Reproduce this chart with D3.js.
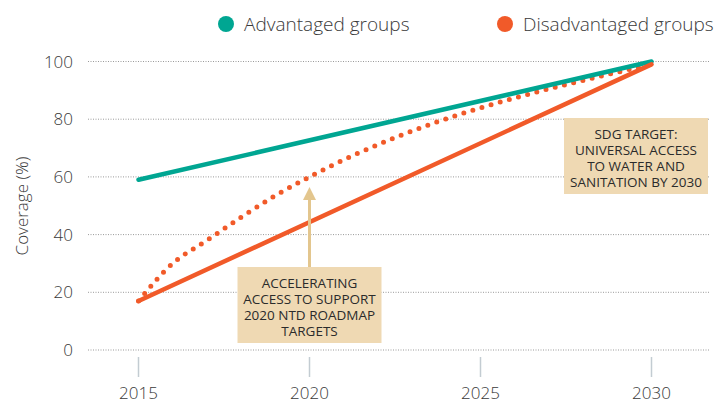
<!DOCTYPE html>
<html>
<head>
<meta charset="utf-8">
<script src="https://cdn.jsdelivr.net/npm/d3@7"></script>
<style>
  body { margin: 0; background: #fff; }
  text { font-family: "Open Sans", sans-serif; }
</style>
</head>
<body>
<div id="chart"></div>
<script>
var w = 715;
var h = 407;

// Data
var years = [2015, 2020, 2025, 2030];
var yTicks = [0, 20, 40, 60, 80, 100];
var advantaged = [{ year: 2015, value: 59 }, { year: 2030, value: 100 }];
var disadvantaged = [{ year: 2015, value: 17 }, { year: 2030, value: 99 }];
var accelerated = [
  { year: 2015, value: 17 },
  { year: 2016, value: 30 },
  { year: 2017, value: 38 },
  { year: 2018, value: 46 },
  { year: 2019, value: 53.5 },
  { year: 2020, value: 60 },
  { year: 2030, value: 99 }
];
var legendItems = ['Advantaged groups', 'Disadvantaged groups'];
var note1 = ['ACCELERATING', 'ACCESS TO SUPPORT', '2020 NTD ROADMAP', 'TARGETS'];
var note2 = ['SDG TARGET:', 'UNIVERSAL ACCESS', 'TO WATER AND', 'SANITATION BY 2030'];

var teal = '#00a692';
var orange = '#f15a29';
var tan = '#efd9b3';
var ink = '#3a3a3a';

var svg = d3.select('#chart').append('svg')
  .attr('width', w)
  .attr('height', h);

var x = d3.scaleLinear().domain([2015, 2030]).range([138.5, 651.5]);
var y = d3.scaleLinear().domain([0, 100]).range([350, 61.5]);

// gridlines
svg.append('g').selectAll('line')
  .data(yTicks)
  .enter()
  .append('line')
  .attr('x1', 88)
  .attr('x2', 710)
  .attr('y1', function (d) { return y(d); })
  .attr('y2', function (d) { return y(d); })
  .attr('stroke', '#9a9a9a')
  .attr('stroke-width', 1)
  .attr('stroke-dasharray', '1 1.5');

// y labels
svg.append('g').selectAll('text')
  .data(yTicks)
  .enter()
  .append('text')
  .attr('x', 73)
  .attr('y', function (d) { return y(d); })
  .attr('dy', '0.36em')
  .attr('text-anchor', 'end')
  .attr('font-size', '17px')
  .attr('font-weight', 300)
  .attr('fill', ink)
  .text(function (d) { return d; });

// x axis ticks
var xg = svg.append('g').selectAll('g')
  .data(years)
  .enter()
  .append('g')
  .attr('transform', function (d) { return 'translate(' + x(d) + ',0)'; });
xg.append('line')
  .attr('y1', 357)
  .attr('y2', 377)
  .attr('stroke', '#c3ccd2')
  .attr('stroke-width', 1.5);
xg.append('text')
  .attr('y', 399)
  .attr('text-anchor', 'middle')
  .attr('font-size', '17px')
  .attr('font-weight', 300)
  .attr('fill', ink)
  .text(function (d) { return d; });

// y axis title
svg.append('text')
  .attr('transform', 'translate(28,206) rotate(-90)')
  .attr('text-anchor', 'middle')
  .attr('font-size', '17px')
  .attr('font-weight', 300)
  .attr('fill', ink)
  .text('Coverage (%)');

var line = d3.line()
  .x(function (d) { return x(d.year); })
  .y(function (d) { return y(d.value); });

svg.append('path')
  .datum(accelerated)
  .attr('d', line.curve(d3.curveMonotoneX))
  .attr('fill', 'none')
  .attr('stroke', orange)
  .attr('stroke-width', 5)
  .attr('stroke-linecap', 'round')
  .attr('stroke-dasharray', '0 9.5');

line.curve(d3.curveLinear);

svg.append('path')
  .datum(advantaged)
  .attr('d', line)
  .attr('fill', 'none')
  .attr('stroke', teal)
  .attr('stroke-width', 4.5)
  .attr('stroke-linecap', 'round');

svg.append('path')
  .datum(disadvantaged)
  .attr('d', line)
  .attr('fill', 'none')
  .attr('stroke', orange)
  .attr('stroke-width', 4.5)
  .attr('stroke-linecap', 'round');

// arrow to 2020 target
svg.append('line')
  .attr('x1', x(2020))
  .attr('x2', x(2020))
  .attr('y1', 268)
  .attr('y2', 198)
  .attr('stroke', '#e3c68e')
  .attr('stroke-width', 3);
svg.append('path')
  .attr('d', 'M' + (x(2020) - 6.5) + ',200 L' + x(2020) + ',' + (y(60) + 10) + ' L' + (x(2020) + 6.5) + ',200 Z')
  .attr('fill', '#e3c68e');

// note boxes
function noteBox (cx, top, bw, bh, lines) {
  var g = svg.append('g');
  g.append('rect')
    .attr('x', cx - bw / 2)
    .attr('y', top)
    .attr('width', bw)
    .attr('height', bh)
    .attr('fill', tan);
  g.selectAll('text')
    .data(lines)
    .enter()
    .append('text')
    .attr('x', cx)
    .attr('y', function (d, i) { return top + 16 + i * 16; })
    .attr('dy', '0.35em')
    .attr('text-anchor', 'middle')
    .attr('font-family', '"Liberation Sans Narrow", "DejaVu Sans Condensed", sans-serif')
    .attr('font-size', '13.5px')
    .attr('fill', '#2b2b2b')
    .text(function (d) { return d; });
}
noteBox(x(2020), 267, 144, 76, note1);
noteBox(636, 118, 144, 76, note2);

// legend
var legend = svg.append('g').selectAll('g')
  .data(legendItems)
  .enter()
  .append('g')
  .attr('transform', function (d, i) { return 'translate(' + (i === 0 ? 226 : 505) + ',24)'; });
legend.append('circle')
  .attr('r', 8)
  .attr('fill', function (d, i) { return i === 0 ? teal : orange; });
legend.append('text')
  .attr('x', 18)
  .attr('dy', '0.36em')
  .attr('font-size', '19px')
  .attr('font-weight', 300)
  .attr('fill', ink)
  .text(function (d) { return d; });
</script>
</body>
</html>
